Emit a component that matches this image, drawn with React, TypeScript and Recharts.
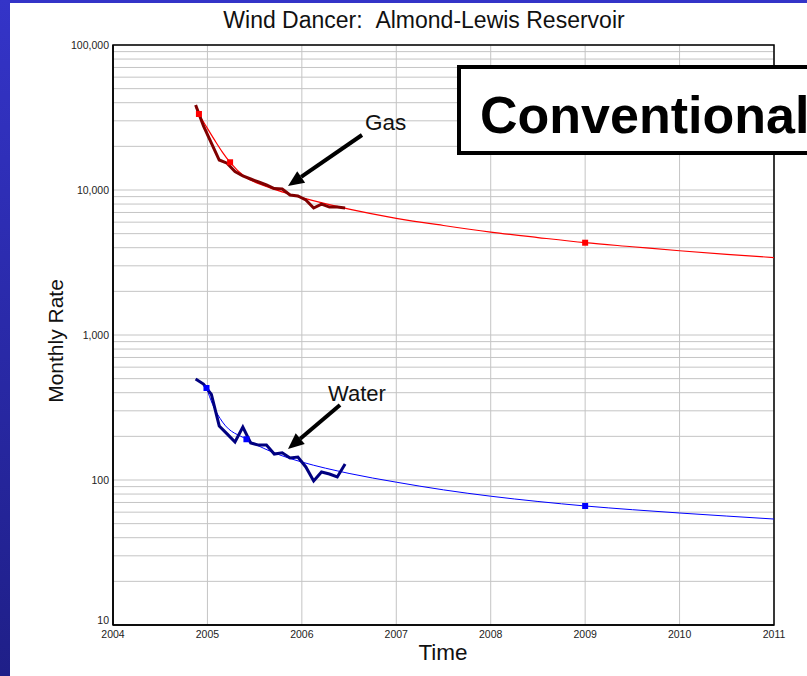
import { ComposedChart, Line, Scatter, XAxis, YAxis, CartesianGrid, ReferenceArea } from "recharts";

const FONT = "'Liberation Sans', Arial, sans-serif";

// monthly production dates (decimal years)
const MESES = [
  2004.875, 2004.958, 2005.042, 2005.125, 2005.208, 2005.292, 2005.375, 2005.458, 2005.542, 2005.625,
  2005.708, 2005.792, 2005.875, 2005.958, 2006.042, 2006.125, 2006.208, 2006.292, 2006.375, 2006.458,
];
const GAS_REAL = [
  38560, 27630, 21090, 16100, 15300, 13400, 12490, 11910, 11350, 10830,
  10240, 10160, 9240, 9090, 8530, 7510, 8000, 7630, 7630, 7510,
];
const AGUA_REAL = [
  497, 459, 390, 236, 208, 183, 232, 180, 174, 174,
  151, 154, 142, 144, 123, 98.4, 113.6, 110, 105, 129,
];

// forecast curves
const GAS_PRON_T = [
  2004.88, 2004.91, 2005.0, 2005.08, 2005.16, 2005.24, 2005.4, 2005.6, 2005.8, 2006.0,
  2006.5, 2007.0, 2007.5, 2008.0, 2008.5, 2009.0, 2009.5, 2010.0, 2010.5, 2011.0,
];
const GAS_PRON = [
  36810, 33420, 26610, 21880, 18200, 15520, 12300, 10720, 9660, 8850,
  7380, 6380, 5690, 5130, 4700, 4330, 4060, 3810, 3600, 3420,
];
const AGUA_PRON_T = [
  2004.99, 2005.056, 2005.16, 2005.413, 2005.66, 2005.87, 2006.0, 2006.5, 2007.0, 2007.5,
  2008.0, 2008.5, 2009.0, 2009.5, 2010.0, 2010.5, 2011.0,
];
const AGUA_PRON = [
  431, 331, 251, 191, 158.5, 141, 133, 111, 96.6, 85.5,
  77.3, 71.1, 66.2, 62.4, 59.2, 56.4, 53.8,
];

// square markers on the forecasts
const GAS_MARCAS_T = [2004.91, 2005.24, 2009.0];
const GAS_MARCAS = [33440, 15530, 4330];
const AGUA_MARCAS_T = [2004.99, 2005.413, 2009.0];
const AGUA_MARCAS = [431, 191, 66.2];

const ANIOS = [2004, 2005, 2006, 2007, 2008, 2009, 2010, 2011];
const Y_TICKS = [
  10, 20, 30, 40, 50, 60, 70, 80, 90,
  100, 200, 300, 400, 500, 600, 700, 800, 900,
  1000, 2000, 3000, 4000, 5000, 6000, 7000, 8000, 9000,
  10000, 20000, 30000, 40000, 50000, 60000, 70000, 80000, 90000,
  100000,
];
const Y_ETIQUETAS = [10, 100, 1000, 10000, 100000];

const serie = (ts: number[], vs: number[]) => ts.map((t, i) => ({ t, v: vs[i] }));

const gasReal = serie(MESES, GAS_REAL);
const aguaReal = serie(MESES, AGUA_REAL);
const gasPron = serie(GAS_PRON_T, GAS_PRON);
const aguaPron = serie(AGUA_PRON_T, AGUA_PRON);
const gasMarcas = serie(GAS_MARCAS_T, GAS_MARCAS);
const aguaMarcas = serie(AGUA_MARCAS_T, AGUA_MARCAS);

function cuadro(color: string) {
  return (p: any) => <rect x={p.cx - 3} y={p.cy - 3} width={6} height={6} fill={color} />;
}

// y tick: only powers of ten get a label; the bottom one sits a bit higher
function TickY(p: any) {
  const v = p.payload.value;
  if (!Y_ETIQUETAS.includes(v)) return null;
  const sube = v === 10 ? -5 : 0;
  return (
    <text x={p.x} y={p.y + sube} dy="0.355em" textAnchor="end" fontSize={10.5} fill="#222" fontFamily={FONT}>
      {v.toLocaleString("en-US")}
    </text>
  );
}

function Flecha({ x1, y1, x2, y2 }: { x1: number; y1: number; x2: number; y2: number }) {
  const dx = x2 - x1;
  const dy = y2 - y1;
  const len = Math.hypot(dx, dy);
  const ux = dx / len;
  const uy = dy / len;
  const bx = x2 - ux * 16;
  const by = y2 - uy * 16;
  const nx = -uy * 7;
  const ny = ux * 7;
  return (
    <g>
      <line x1={x1} y1={y1} x2={bx} y2={by} stroke="#000" strokeWidth={4} />
      <polygon points={`${x2},${y2} ${bx + nx},${by + ny} ${bx - nx},${by - ny}`} fill="#000" />
    </g>
  );
}

export default function App() {
  return (
    <div style={{ position: "absolute", left: 0, top: 0, width: 807, height: 676, background: "#fff", overflow: "hidden" }}>
      <style>{`body{margin:0}`}</style>
      <div style={{ position: "absolute", left: 0, top: 0, width: 807, height: 3, background: "#3434c8" }} />
      <div
        style={{
          position: "absolute",
          left: 0,
          top: 0,
          width: 10,
          height: 676,
          background: "linear-gradient(#3434c8, #1f1f88)",
        }}
      />
      <div style={{ position: "absolute", left: 0, top: 0 }}>
        <ComposedChart width={807} height={676} margin={{ top: 45, right: 33, left: 13, bottom: 21 }}>
          <CartesianGrid stroke="#c4c4c4" />
          <XAxis
            type="number"
            dataKey="t"
            domain={[2004, 2011]}
            ticks={ANIOS}
            allowDataOverflow
            tickLine={false}
            tickSize={0}
            tickMargin={6}
            height={30}
            stroke="#000"
            strokeWidth={1.5}
            tick={{ fontSize: 10.5, fill: "#222", fontFamily: FONT }}
          />
          <YAxis
            dataKey="v"
            scale="log"
            domain={[10, 100000]}
            allowDataOverflow
            ticks={Y_TICKS}
            interval={0}
            tick={<TickY />}
            tickLine={false}
            tickSize={0}
            tickMargin={4}
            width={100}
            stroke="#000"
            strokeWidth={1.5}
          />
          <ReferenceArea x1={2004} x2={2011} y1={10} y2={100000} fill="none" stroke="#000" strokeWidth={1.5} />
          <Line data={gasPron} dataKey="v" type="monotone" stroke="#ff0000" strokeWidth={1.2} dot={false} isAnimationActive={false} />
          <Line data={aguaPron} dataKey="v" type="monotone" stroke="#0000ff" strokeWidth={1} dot={false} isAnimationActive={false} />
          <Line data={gasReal} dataKey="v" type="linear" stroke="#800000" strokeWidth={3} dot={false} isAnimationActive={false} />
          <Line data={aguaReal} dataKey="v" type="linear" stroke="#000080" strokeWidth={3} dot={false} isAnimationActive={false} />
          <Scatter data={gasMarcas} dataKey="v" shape={cuadro("#ff0000")} isAnimationActive={false} />
          <Scatter data={aguaMarcas} dataKey="v" shape={cuadro("#0000ff")} isAnimationActive={false} />
        </ComposedChart>
      </div>
      <svg
        width={807}
        height={676}
        style={{ position: "absolute", left: 0, top: 0, pointerEvents: "none" }}
        fontFamily={FONT}
      >
        <text x={424} y={28} textAnchor="middle" fontSize={23} fill="#111">
          Wind Dancer:{"\u00a0\u00a0"}Almond-Lewis Reservoir
        </text>
        <text transform="translate(63,341) rotate(-90)" textAnchor="middle" fontSize={21} fill="#111">
          Monthly Rate
        </text>
        <text x={443} y={660} textAnchor="middle" fontSize={22.5} fill="#111">
          Time
        </text>
        <text x={365} y={130} fontSize={22.5} fill="#111">
          Gas
        </text>
        <Flecha x1={362} y1={135} x2={288} y2={186} />
        <text x={328} y={401} fontSize={22} fill="#111">
          Water
        </text>
        <Flecha x1={340} y1={405} x2={288} y2={449} />
        <rect x={459} y={67} width={400} height={86} fill="#fff" stroke="#000" strokeWidth={4} />
        <text x={480} y={133} fontSize={52} fontWeight="bold" fill="#000">
          Conventional
        </text>
      </svg>
    </div>
  );
}
